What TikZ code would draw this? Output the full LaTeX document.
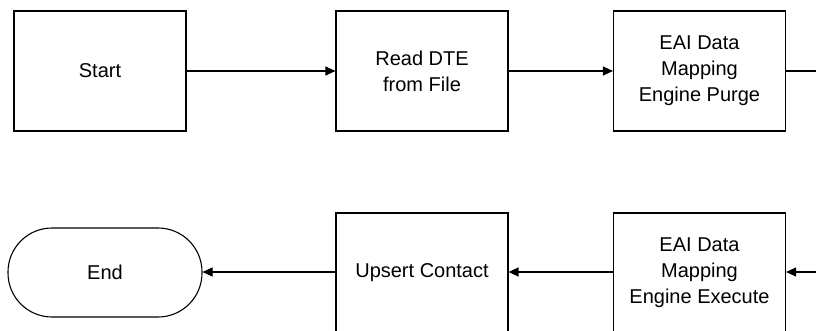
\documentclass[tikz,border=0pt]{standalone}
\usepackage{fontspec}
\setmainfont{Liberation Sans}
\usetikzlibrary{arrows.meta}
\begin{document}
\begin{tikzpicture}[x=1pt,y=-1pt,
  box/.style={draw=black,line width=1.1pt,minimum width=172pt,minimum height=120pt,inner sep=0pt,align=center,font=\fontsize{20}{26}\selectfont},
  term/.style={box,minimum width=194pt,minimum height=89pt,rounded corners=44pt},
  conn/.style={line width=1.1pt,-{Triangle[length=10pt,width=9pt]}},
  plainline/.style={line width=1.1pt}]
\useasboundingbox (0,0) rectangle (816,331);
\clip (0,0) rectangle (816,331);
\node[box] (start) at (100,71) {Start};
\node[box] (read) at (422,71) {Read DTE\\from File};
\node[box] (purge) at (699.5,71) {EAI Data\\Mapping\\Engine Purge};
\node[box] (exec) at (699.5,273) {EAI Data\\Mapping\\Engine Execute};
\node[box] (ups) at (422,273) {Upsert Contact};
\node[term] (end) at (105,272.5) {End};
\coordinate (outR) at (820,71);
\coordinate (inR) at (820,272);
\draw[conn] (start) -- (read);
\draw[conn] (read) -- (purge);
\draw[plainline] (purge.east) -- (outR);
\draw[conn] (inR) -- (exec.east |- inR);
\draw[conn] (exec.west |- inR) -- (ups.east |- inR);
\draw[conn] (ups.west |- inR) -- (end.east |- inR);
\end{tikzpicture}
\end{document}
